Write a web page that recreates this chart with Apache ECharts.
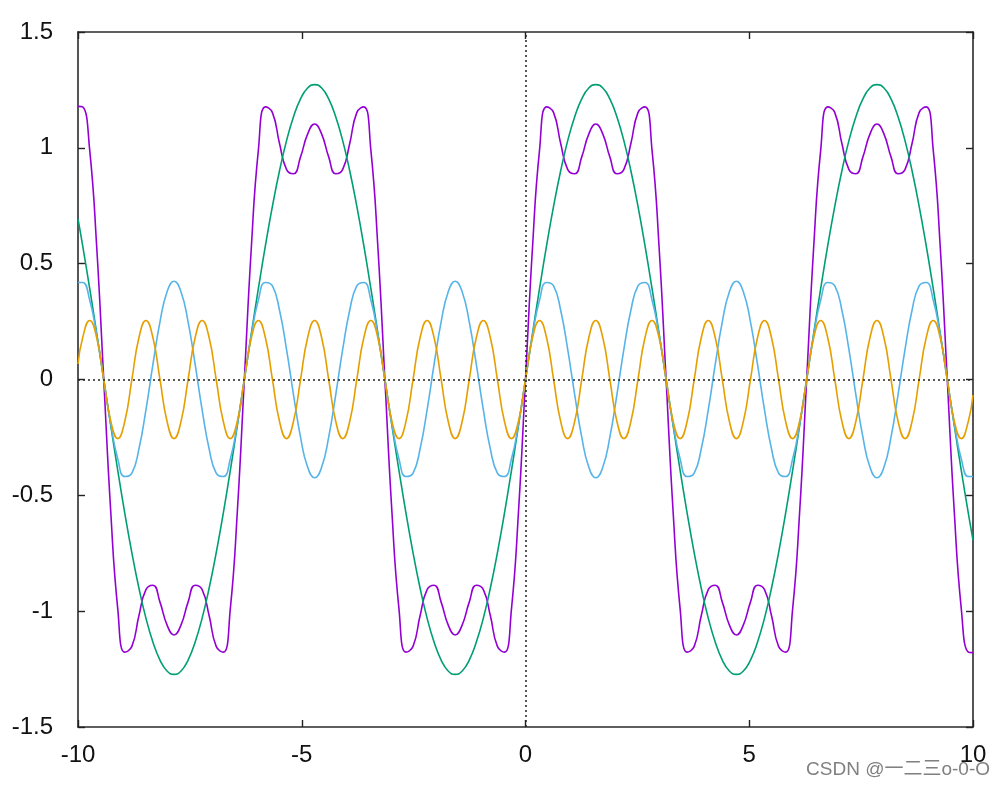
<!DOCTYPE html>
<html>
<head>
<meta charset="utf-8">
<script src="https://cdn.jsdelivr.net/npm/echarts@6/dist/echarts.min.js"></script>
<style>
html,body{margin:0;padding:0;background:#fff;}
#chart{width:1006px;height:787px;}
</style>
</head>
<body>
<div id="chart"></div>
<script>
// x sample positions
const xs = [-10, -9.896, -9.739, -9.582, -9.425, -9.268, -9.111, -8.954, -8.796, -8.639, -8.482, -8.325, -8.168, -8.011, -7.854, -7.697, -7.540, -7.383, -7.226, -7.069, -6.912, -6.754, -6.597, -6.440, -6.283, -6.126, -5.969, -5.812, -5.655, -5.498, -5.341, -5.184, -5.027, -4.869, -4.712, -4.555, -4.398, -4.241, -4.084, -3.927, -3.770, -3.613, -3.456, -3.299, -3.142, -2.985, -2.827, -2.670, -2.513, -2.356, -2.199, -2.042, -1.885, -1.728, -1.571, -1.414, -1.257, -1.100, -0.942, -0.785, -0.628, -0.471, -0.314, -0.157, 0, 0.157, 0.314, 0.471, 0.628, 0.785, 0.942, 1.100, 1.257, 1.414, 1.571, 1.728, 1.885, 2.042, 2.199, 2.356, 2.513, 2.670, 2.827, 2.985, 3.142, 3.299, 3.456, 3.613, 3.770, 3.927, 4.084, 4.241, 4.398, 4.555, 4.712, 4.869, 5.027, 5.184, 5.341, 5.498, 5.655, 5.812, 5.969, 6.126, 6.283, 6.440, 6.597, 6.754, 6.912, 7.069, 7.226, 7.383, 7.540, 7.697, 7.854, 8.011, 8.168, 8.325, 8.482, 8.639, 8.796, 8.954, 9.111, 9.268, 9.425, 9.582, 9.739, 9.896, 10];

const purpleSum = [1.179, 1.177, 0.991, 0.572, 0,
 -0.572, -0.991, -1.177, -1.152, -1.02, -0.907, -0.888, -0.961, -1.059, -1.103, -1.059, -0.961, -0.888, -0.907, -1.02, -1.152, -1.177, -0.991, -0.572, 0,
 0.572, 0.991, 1.177, 1.152, 1.02, 0.907, 0.888, 0.961, 1.059, 1.103, 1.059, 0.961, 0.888, 0.907, 1.02, 1.152, 1.177, 0.991, 0.572, 0,
 -0.572, -0.991, -1.177, -1.152, -1.02, -0.907, -0.888, -0.961, -1.059, -1.103, -1.059, -0.961, -0.888, -0.907, -1.02, -1.152, -1.177, -0.991, -0.572, 0,
 0.572, 0.991, 1.177, 1.152, 1.02, 0.907, 0.888, 0.961, 1.059, 1.103, 1.059, 0.961, 0.888, 0.907, 1.02, 1.152, 1.177, 0.991, 0.572, 0,
 -0.572, -0.991, -1.177, -1.152, -1.02, -0.907, -0.888, -0.961, -1.059, -1.103, -1.059, -0.961, -0.888, -0.907, -1.02, -1.152, -1.177, -0.991, -0.572, 0,
 0.572, 0.991, 1.177, 1.152, 1.02, 0.907, 0.888, 0.961, 1.059, 1.103, 1.059, 0.961, 0.888, 0.907, 1.02, 1.152, 1.177, 0.991, 0.572, 0,
 -0.572, -0.991, -1.177, -1.179];

const greenSin1 = [0.693, 0.578, 0.393, 0.199, 0,
 -0.199, -0.393, -0.578, -0.748, -0.9, -1.03, -1.134, -1.211, -1.258, -1.273, -1.258, -1.211, -1.134, -1.03, -0.9, -0.748, -0.578, -0.393, -0.199, 0,
 0.199, 0.393, 0.578, 0.748, 0.9, 1.03, 1.134, 1.211, 1.258, 1.273, 1.258, 1.211, 1.134, 1.03, 0.9, 0.748, 0.578, 0.393, 0.199, 0,
 -0.199, -0.393, -0.578, -0.748, -0.9, -1.03, -1.134, -1.211, -1.258, -1.273, -1.258, -1.211, -1.134, -1.03, -0.9, -0.748, -0.578, -0.393, -0.199, 0,
 0.199, 0.393, 0.578, 0.748, 0.9, 1.03, 1.134, 1.211, 1.258, 1.273, 1.258, 1.211, 1.134, 1.03, 0.9, 0.748, 0.578, 0.393, 0.199, 0,
 -0.199, -0.393, -0.578, -0.748, -0.9, -1.03, -1.134, -1.211, -1.258, -1.273, -1.258, -1.211, -1.134, -1.03, -0.9, -0.748, -0.578, -0.393, -0.199, 0,
 0.199, 0.393, 0.578, 0.748, 0.9, 1.03, 1.134, 1.211, 1.258, 1.273, 1.258, 1.211, 1.134, 1.03, 0.9, 0.748, 0.578, 0.393, 0.199, 0,
 -0.199, -0.393, -0.578, -0.693];

const blueSin3 = [0.419, 0.419, 0.343, 0.193, 0,
 -0.193, -0.343, -0.419, -0.404, -0.3, -0.131, 0.066, 0.249, 0.378, 0.424, 0.378, 0.249, 0.066, -0.131, -0.3, -0.404, -0.419, -0.343, -0.193, 0,
 0.193, 0.343, 0.419, 0.404, 0.3, 0.131, -0.066, -0.249, -0.378, -0.424, -0.378, -0.249, -0.066, 0.131, 0.3, 0.404, 0.419, 0.343, 0.193, 0,
 -0.193, -0.343, -0.419, -0.404, -0.3, -0.131, 0.066, 0.249, 0.378, 0.424, 0.378, 0.249, 0.066, -0.131, -0.3, -0.404, -0.419, -0.343, -0.193, 0,
 0.193, 0.343, 0.419, 0.404, 0.3, 0.131, -0.066, -0.249, -0.378, -0.424, -0.378, -0.249, -0.066, 0.131, 0.3, 0.404, 0.419, 0.343, 0.193, 0,
 -0.193, -0.343, -0.419, -0.404, -0.3, -0.131, 0.066, 0.249, 0.378, 0.424, 0.378, 0.249, 0.066, -0.131, -0.3, -0.404, -0.419, -0.343, -0.193, 0,
 0.193, 0.343, 0.419, 0.404, 0.3, 0.131, -0.066, -0.249, -0.378, -0.424, -0.378, -0.249, -0.066, 0.131, 0.3, 0.404, 0.419, 0.343, 0.193, 0,
 -0.193, -0.343, -0.419, -0.419];

const orangeSin5 = [0.067, 0.18, 0.255, 0.18, 0,
 -0.18, -0.255, -0.18, 0, 0.18, 0.255, 0.18, 0, -0.18, -0.255, -0.18, 0, 0.18, 0.255, 0.18, 0, -0.18, -0.255, -0.18, 0,
 0.18, 0.255, 0.18, 0, -0.18, -0.255, -0.18, 0, 0.18, 0.255, 0.18, 0, -0.18, -0.255, -0.18, 0, 0.18, 0.255, 0.18, 0,
 -0.18, -0.255, -0.18, 0, 0.18, 0.255, 0.18, 0, -0.18, -0.255, -0.18, 0, 0.18, 0.255, 0.18, 0, -0.18, -0.255, -0.18, 0,
 0.18, 0.255, 0.18, 0, -0.18, -0.255, -0.18, 0, 0.18, 0.255, 0.18, 0, -0.18, -0.255, -0.18, 0, 0.18, 0.255, 0.18, 0,
 -0.18, -0.255, -0.18, 0, 0.18, 0.255, 0.18, 0, -0.18, -0.255, -0.18, 0, 0.18, 0.255, 0.18, 0, -0.18, -0.255, -0.18, 0,
 0.18, 0.255, 0.18, 0, -0.18, -0.255, -0.18, 0, 0.18, 0.255, 0.18, 0, -0.18, -0.255, -0.18, 0, 0.18, 0.255, 0.18, 0,
 -0.18, -0.255, -0.18, -0.067];

const xTicks = { min: -10, max: 10, interval: 5 };
const yTicks = { min: -1.5, max: 1.5, interval: 0.5 };
const watermark = 'CSDN @一二三o-0-O';

const pairs = ys => xs.map((x, i) => [x, ys[i]]);

const font = '"Liberation Sans", Arial, sans-serif';
const axisLine = { show: true, onZero: false, lineStyle: { color: '#2b2b2b', width: 1.6 } };
const tick = { show: true, inside: true, length: 7, lineStyle: { color: '#222', width: 1.4 } };

const chart = echarts.init(document.getElementById('chart'), null, { renderer: 'canvas' });
const lineSeries = (name, ys, color) => ({
  name, type: 'line', data: pairs(ys), showSymbol: false, symbol: 'none',
  smooth: 0.5, lineStyle: { color, width: 1.6 }, itemStyle: { color },
  animation: false, silent: true
});

chart.setOption({
  animation: false,
  backgroundColor: '#fff',
  grid: { left: 78, right: 33, top: 32, bottom: 60, containLabel: false },
  xAxis: [
    { type: 'value', position: 'bottom', min: xTicks.min, max: xTicks.max, interval: xTicks.interval,
      axisLine, axisTick: tick, splitLine: { show: false },
      axisLabel: { fontSize: 24, color: '#111', fontFamily: font, margin: 16 } },
    { type: 'value', position: 'top', min: xTicks.min, max: xTicks.max, interval: xTicks.interval,
      axisLine, axisTick: tick, splitLine: { show: false }, axisLabel: { show: false } }
  ],
  yAxis: [
    { type: 'value', position: 'left', min: yTicks.min, max: yTicks.max, interval: yTicks.interval,
      axisLine, axisTick: tick, splitLine: { show: false },
      axisLabel: { fontSize: 24, color: '#111', fontFamily: font, margin: 25 } },
    { type: 'value', position: 'right', min: yTicks.min, max: yTicks.max, interval: yTicks.interval,
      axisLine, axisTick: tick, splitLine: { show: false }, axisLabel: { show: false } }
  ],
  series: [
    { type: 'line', data: [], silent: true,
      markLine: { silent: true, symbol: 'none', animation: false, label: { show: false },
        lineStyle: { color: '#222', type: [2, 3], width: 1.5 },
        data: [{ yAxis: 0 }, { xAxis: 0 }] } },
    lineSeries('sum', purpleSum, '#9400D3'),
    lineSeries('sin x', greenSin1, '#009E73'),
    lineSeries('sin 3x', blueSin3, '#56B4E9'),
    lineSeries('sin 5x', orangeSin5, '#E69F00')
  ],
  graphic: [{
    type: 'text', right: 16, top: 760, silent: true, z: 100,
    style: { text: watermark, font: '19px "Liberation Sans", "Noto Sans CJK SC", sans-serif', fill: '#808080' }
  }]
});
</script>
</body>
</html>
